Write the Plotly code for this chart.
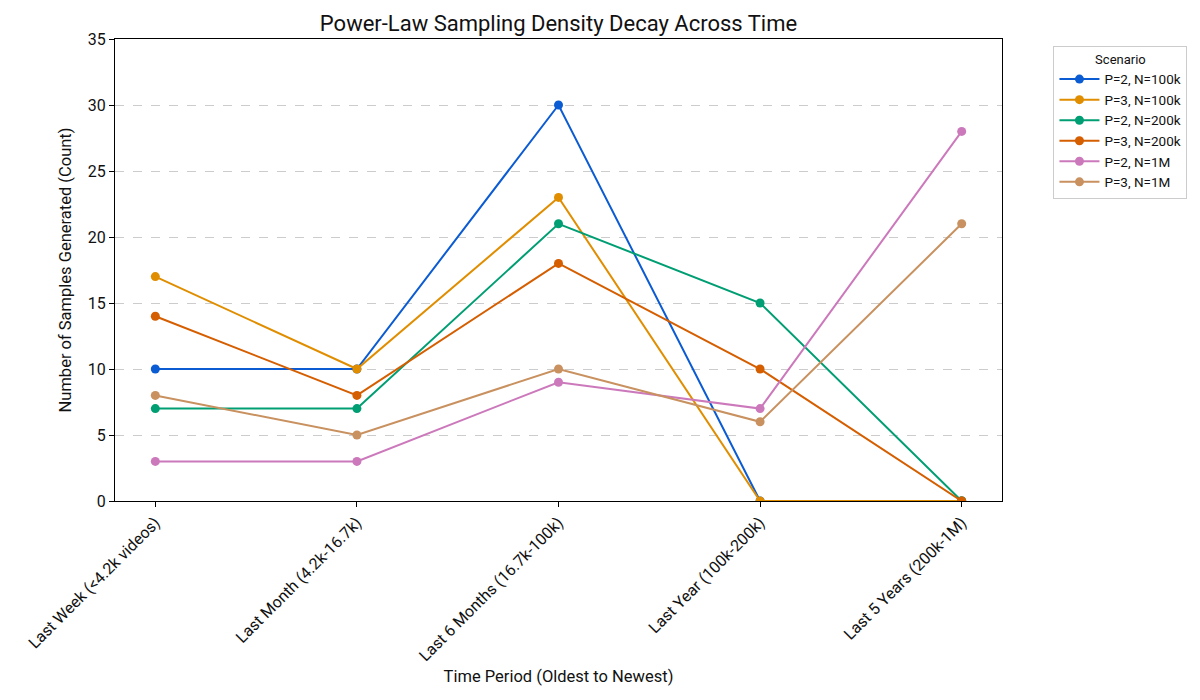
import plotly.graph_objects as go

categories = ["Last Week (<4.2k videos)", "Last Month (4.2k-16.7k)", "Last 6 Months (16.7k-100k)",
              "Last Year (100k-200k)", "Last 5 Years (200k-1M)"]
series_names = ["P=2, N=100k", "P=3, N=100k", "P=2, N=200k", "P=3, N=200k", "P=2, N=1M", "P=3, N=1M"]
p2_100k = [10, 10, 30, 0, 0]
p3_100k = [17, 10, 23, 0, 0]
p2_200k = [7, 7, 21, 15, 0]
p3_200k = [14, 8, 18, 10, 0]
p2_1m = [3, 3, 9, 7, 28]
p3_1m = [8, 5, 10, 6, 21]
series_values = [p2_100k, p3_100k, p2_200k, p3_200k, p2_1m, p3_1m]
colors = ["#0b5bd3", "#e08e00", "#009e73", "#d55e00", "#cc79bc", "#c8915f"]

FONT = "Roboto, Inter, DejaVu Sans, sans-serif"

fig = go.Figure()
xs = list(range(len(categories)))
for name, vals, c in zip(series_names, series_values, colors):
    fig.add_trace(go.Scatter(x=xs, y=vals, mode="lines+markers", name=name,
                             line=dict(color=c, width=2), marker=dict(color=c, size=9)))

fig.update_layout(
    width=1200, height=700,
    margin=dict(l=107, r=206, t=31, b=207),
    paper_bgcolor="white", plot_bgcolor="white",
    font=dict(family=FONT, size=15, color="#111"),
    title=dict(text="Power-Law Sampling Density Decay Across Time", x=0.5, xref="paper", xanchor="center",
               y=1 - 15 / 700, yref="container", yanchor="middle", font=dict(size=22, family=FONT, color="#111")),
    legend=dict(title=dict(text="Scenario", side="top center", font=dict(size=13)),
                x=1.058, y=0.985, xanchor="left", yanchor="top",
                bordercolor="#cccccc", borderwidth=1, font=dict(size=13.5),
                itemwidth=40, tracegroupgap=0),
    showlegend=True,
)
fig.update_xaxes(
    tickvals=xs, ticktext=categories, range=[-0.2, 4.2], tickangle=-45,
    showgrid=False, showline=True, linecolor="black", linewidth=1, mirror=True,
    ticks="outside", ticklen=5, tickcolor="black", tickfont=dict(size=16),
    title=dict(text="Time Period (Oldest to Newest)", font=dict(size=16.5), standoff=6), zeroline=False,
)
fig.update_yaxes(
    range=[0, 35], dtick=5, showgrid=True, gridcolor="#cccccc", griddash="dash", gridwidth=1,
    showline=True, linecolor="black", linewidth=1, mirror=True,
    ticks="outside", ticklen=5, tickcolor="black", tickfont=dict(size=16),
    title=dict(text="Number of Samples Generated (Count)", font=dict(size=16.5), standoff=12), zeroline=False,
)

fig.write_html("out.html")
